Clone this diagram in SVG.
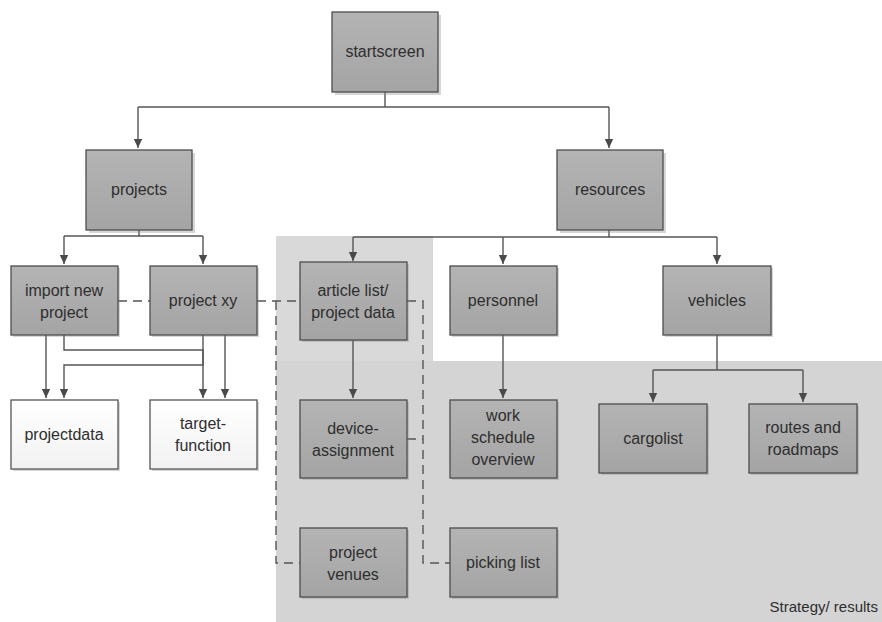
<svg xmlns="http://www.w3.org/2000/svg" width="882" height="622" viewBox="0 0 882 622">
<defs>
<linearGradient id="g" x1="0" y1="0" x2="0" y2="1"><stop offset="0" stop-color="#b4b4b4"/><stop offset="1" stop-color="#a4a4a4"/></linearGradient>
<linearGradient id="w" x1="0" y1="0" x2="0" y2="1"><stop offset="0" stop-color="#ffffff"/><stop offset="1" stop-color="#f2f2f2"/></linearGradient>
<marker id="a" markerWidth="10" markerHeight="10" refX="9" refY="5" orient="auto" markerUnits="userSpaceOnUse"><path d="M0,0.8 L9,5 L0,9.2 Z" fill="#4a4a4a"/></marker>
</defs>
<style>
.n{fill:url(#g);stroke:#4d4d4d;stroke-width:1.3}
.l{fill:url(#w);stroke:#555;stroke-width:1.3}
.sh{fill:#8a8a8a;opacity:0.35}
text{font-family:"Liberation Sans",Arial,sans-serif;font-size:16px;fill:#2e2e2e;text-anchor:middle}
.c{fill:none;stroke:#555;stroke-width:1.4}
.d{fill:none;stroke:#555;stroke-width:1.4;stroke-dasharray:9,6}
</style>
<rect width="882" height="622" fill="#fff"/>
<g id="regions">
<rect x="276" y="236" width="157" height="125" fill="#d9d9d9"/>
<rect x="276" y="361" width="606" height="261" fill="#d4d4d4"/>
<text x="878" y="612" style="text-anchor:end;font-size:15px">Strategy/ results</text>
</g>
<g id="connectors">
<path class="c" d="M385,92 V107 M138,107 H609" />
<path class="c" d="M138,107 V148" marker-end="url(#a)"/>
<path class="c" d="M609,107 V148" marker-end="url(#a)"/>
<path class="c" d="M139,230 V236 M64,236 H203"/>
<path class="c" d="M64,236 V264" marker-end="url(#a)"/>
<path class="c" d="M203,236 V264" marker-end="url(#a)"/>
<path class="c" d="M46,335 V398" marker-end="url(#a)"/>
<path class="c" d="M64,335 V350 H203 V398" marker-end="url(#a)"/>
<path class="c" d="M203,335 V365 H64 V398" marker-end="url(#a)"/>
<path class="c" d="M225,335 V398" marker-end="url(#a)"/>
<path class="c" d="M609,230 V237 M353,237 H717"/>
<path class="c" d="M353,237 V261" marker-end="url(#a)"/>
<path class="c" d="M503,237 V264" marker-end="url(#a)"/>
<path class="c" d="M717,237 V264" marker-end="url(#a)"/>
<path class="c" d="M353,340 V398" marker-end="url(#a)"/>
<path class="c" d="M503,335 V398" marker-end="url(#a)"/>
<path class="c" d="M717,335 V370 M653,370 H803"/>
<path class="c" d="M653,370 V402" marker-end="url(#a)"/>
<path class="c" d="M803,370 V402" marker-end="url(#a)"/>
<path class="d" d="M118,301 H150"/>
<path class="d" d="M257,301 H300 M276,301 V563 H300"/>
<path class="d" d="M407,301 H423 V563 H450 M407,439 H423"/>
</g>
<g id="startscreen"><rect class="sh" x="335" y="15" width="106" height="80"/><rect class="n" x="332" y="12" width="106" height="80"/><text x="385" y="57">startscreen</text></g>
<g id="projects"><rect class="sh" x="89" y="153" width="106" height="80"/><rect class="n" x="86" y="150" width="106" height="80"/><text x="139" y="195">projects</text></g>
<g id="resources"><rect class="sh" x="560" y="153" width="106" height="80"/><rect class="n" x="557" y="150" width="106" height="80"/><text x="610" y="195">resources</text></g>
<g id="import"><rect class="sh" x="13" y="268" width="107" height="69"/><rect class="n" x="11" y="266" width="107" height="69"/><text x="64" y="296">import new</text><text x="64" y="318">project</text></g>
<g id="projectxy"><rect class="sh" x="152" y="268" width="107" height="69"/><rect class="n" x="150" y="266" width="107" height="69"/><text x="203" y="306">project xy</text></g>
<g id="projectdata"><rect class="sh" x="13" y="402" width="107" height="69"/><rect class="l" x="11" y="400" width="107" height="69"/><text x="64" y="440">projectdata</text></g>
<g id="target"><rect class="sh" x="152" y="402" width="107" height="69"/><rect class="l" x="150" y="400" width="107" height="69"/><text x="203" y="429">target-</text><text x="203" y="451">function</text></g>
<g id="article"><rect class="sh" x="302" y="264" width="107" height="78"/><rect class="n" x="300" y="262" width="107" height="78"/><text x="353" y="296">article list/</text><text x="353" y="318">project data</text></g>
<g id="personnel"><rect class="sh" x="452" y="268" width="107" height="69"/><rect class="n" x="450" y="266" width="107" height="69"/><text x="503" y="306">personnel</text></g>
<g id="vehicles"><rect class="sh" x="665" y="268" width="108" height="69"/><rect class="n" x="663" y="266" width="108" height="69"/><text x="717" y="306">vehicles</text></g>
<g id="device"><rect class="sh" x="302" y="402" width="107" height="78"/><rect class="n" x="300" y="400" width="107" height="78"/><text x="353" y="434">device-</text><text x="353" y="456">assignment</text></g>
<g id="work"><rect class="sh" x="452" y="402" width="107" height="78"/><rect class="n" x="450" y="400" width="107" height="78"/><text x="503" y="421">work</text><text x="503" y="443">schedule</text><text x="503" y="465">overview</text></g>
<g id="cargolist"><rect class="sh" x="601" y="406" width="108" height="69"/><rect class="n" x="599" y="404" width="108" height="69"/><text x="653" y="444">cargolist</text></g>
<g id="routes"><rect class="sh" x="751" y="406" width="108" height="69"/><rect class="n" x="749" y="404" width="108" height="69"/><text x="803" y="433">routes and</text><text x="803" y="455">roadmaps</text></g>
<g id="venues"><rect class="sh" x="302" y="530" width="107" height="69"/><rect class="n" x="300" y="528" width="107" height="69"/><text x="353" y="558">project</text><text x="353" y="580">venues</text></g>
<g id="picking"><rect class="sh" x="452" y="530" width="107" height="69"/><rect class="n" x="450" y="528" width="107" height="69"/><text x="503" y="568">picking list</text></g>
</svg>
